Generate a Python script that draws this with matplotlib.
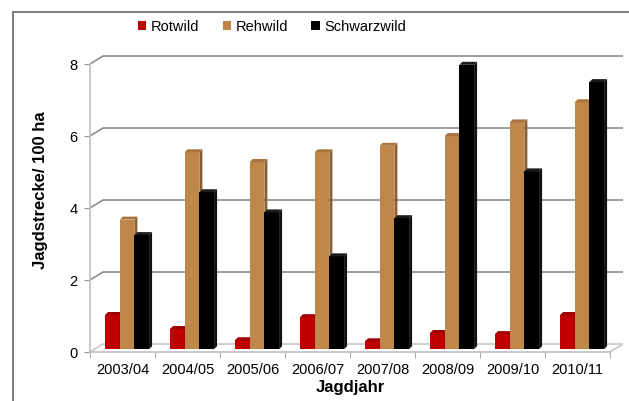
import numpy as np
import matplotlib.pyplot as plt
from matplotlib.patches import Patch, Polygon, Rectangle

plt.rcParams['font.family'] = ['Liberation Sans', 'DejaVu Sans']

## data
jahre = ['2003/04', '2004/05', '2005/06', '2006/07', '2007/08', '2008/09', '2009/10', '2010/11']
rotwild = [0.95, 0.56, 0.25, 0.89, 0.22, 0.45, 0.42, 0.95]
rehwild = [3.6, 5.47, 5.2, 5.47, 5.65, 5.92, 6.3, 6.86]
schwarzwild = [3.17, 4.36, 3.8, 2.58, 3.64, 7.9, 4.94, 7.42]
yticks = [0, 2, 4, 6, 8]

serien = [('Rotwild', rotwild, '#c00000', '#7a0000', '#a00000'),
          ('Rehwild', rehwild, '#c0874a', '#8a5e30', '#a8753f'),
          ('Schwarzwild', schwarzwild, '#000000', '#111111', '#1c1c1c')]

## 3d look: wall depth and bar depth (data units)
dx, dy = 0.2, 0.222
f = 0.35                 ## bars sit at this fraction of the depth
bdx, bdy = 0.046, 0.083  ## bar side / cap thickness
w = 0.226                ## bar width

W, H = 629, 401
fig = plt.figure(figsize=(W / 100, H / 100), dpi=100)

# outer frame
fig.patches.append(Rectangle((13 / W, -0.1), 1.2, 1 - 12 / H + 0.1, transform=fig.transFigure,
                             fill=False, edgecolor='#7f7f7f', linewidth=1.5))

n = len(jahre)
xlo, xhi = -0.5, n - 0.5 + dx
ylo, yhi = -0.1, 8.35
ax = fig.add_axes([90 / W, (H - 355.6) / H, (xhi - xlo) * 65 / W, (yhi - ylo) * 36 / H])
ax.set_xlim(xlo, xhi)
ax.set_ylim(ylo, yhi)
ax.patch.set_alpha(0)

# walls: side wall diagonals + back wall gridlines
for y in yticks:
    col = '#c8c8c8' if y == 0 else '#8c8c8c'
    ax.plot([-0.5, -0.5 + dx, n - 0.5 + dx], [y, y + dy, y + dy], color=col, lw=1.2, zorder=1)
ax.plot([n - 0.5, n - 0.5 + dx], [0, dy], color='#c8c8c8', lw=1.2, zorder=1)

# bars with side face and top cap
x = np.arange(n)
z = 2
for i in range(n):
    for k, (name, vals, c, cs, ct) in enumerate(serien):
        v = vals[i]
        x0 = x[i] + f * dx + (k - 1.5) * w
        y0 = f * dy
        ax.add_patch(Rectangle((x0, y0), w, v, facecolor=c, edgecolor='none', zorder=z))
        ax.add_patch(Polygon([(x0 + w, y0), (x0 + w + bdx, y0 + bdy),
                              (x0 + w + bdx, y0 + v + bdy), (x0 + w, y0 + v)],
                             facecolor=cs, edgecolor='none', zorder=z))
        ax.add_patch(Polygon([(x0, y0 + v), (x0 + bdx, y0 + v + bdy),
                              (x0 + w + bdx, y0 + v + bdy), (x0 + w, y0 + v)],
                             facecolor=ct, edgecolor='none', zorder=z))
        z += 1

# axes
for s in ['top', 'right']:
    ax.spines[s].set_visible(False)
ax.spines['left'].set_position(('data', -0.5))
ax.spines['left'].set_bounds(0, 8)
ax.spines['bottom'].set_position(('data', 0))
ax.spines['bottom'].set_bounds(-0.5, n - 0.5)
for s in ['left', 'bottom']:
    ax.spines[s].set_color('#bfbfbf')
    ax.spines[s].set_linewidth(1.2)

ax.set_yticks(yticks)
ax.set_yticklabels([str(t) for t in yticks], fontsize=10.5)
ax.tick_params(axis='y', direction='out', length=4, color='#999999', pad=5)
ax.set_xticks(x)
ax.set_xticklabels(jahre, fontsize=10.5)
ax.set_xticks(np.arange(-0.5, n), minor=True)
ax.tick_params(axis='x', which='major', length=0, pad=8)
ax.tick_params(axis='x', which='minor', direction='out', length=4, color='#999999')

ax.set_xlabel('Jagdjahr', fontsize=12, fontweight='bold', labelpad=1)
ax.xaxis.set_label_coords((0 - xlo + n / 2 - 0.5) / (xhi - xlo), -0.08)
ax.set_ylabel('Jagdstrecke/ 100 ha', fontsize=12, fontweight='bold')
ax.yaxis.set_label_coords(-0.079, (4.5 - ylo) / (yhi - ylo))

handles = [Patch(facecolor=c, edgecolor='none', label=name) for name, _, c, _, _ in serien]
fig.legend(handles=handles, loc='center', bbox_to_anchor=(272 / W, 1 - 27 / H), ncol=3,
           frameon=False, fontsize=10.5, handlelength=0.6, handleheight=0.6,
           handletextpad=0.3, columnspacing=1.6)

plt.savefig('out.png', dpi=100)
